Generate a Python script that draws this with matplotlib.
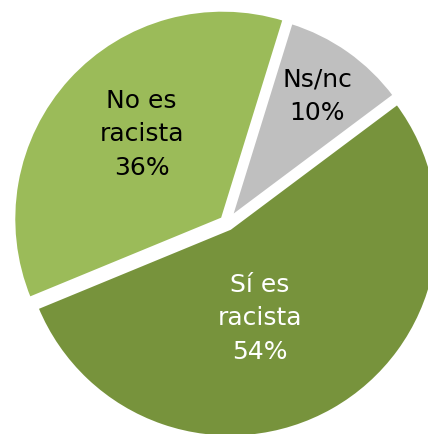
import matplotlib.pyplot as plt
import numpy as np

labels = ['Ns/nc', 'Sí es\nracista', 'No es\nracista']
values = [10, 54, 36]
colors = ['#BFBFBF', '#77933C', '#9BBB59']
text_colors = ['black', 'white', 'black']

fig = plt.figure(figsize=(4.28, 4.35), dpi=100)
ax = fig.add_axes([0, 0, 1, 1])

radius = 209
# explode is in data units here (axes are in pixels)
wedges, _ = ax.pie(values, colors=colors, startangle=72.8, counterclock=False,
                   radius=radius, center=(227, 211), explode=[6, 6, 6],
                   wedgeprops=dict(edgecolor='white', linewidth=2.5))
wedges[0].set_radius(205)  # the grey slice is a bit smaller in the original

# label placement: distance as fraction of radius, small angle tweak
label_dist = [0.72, 0.45, 0.565]
angle_tweak = [-0.1, -11.0, -4.3]
for w, lab, v, c, d, t in zip(wedges, labels, values, text_colors, label_dist, angle_tweak):
    ang = np.deg2rad((w.theta1 + w.theta2) / 2 + t)
    x = w.center[0] + radius * d * np.cos(ang)
    y = w.center[1] + radius * d * np.sin(ang)
    ax.text(x, y, f'{lab}\n{v}%', ha='center', va='center', color=c,
            fontsize=18, linespacing=1.5, family='DejaVu Sans')

ax.set_xlim(0, 428)
ax.set_ylim(0, 435)
ax.set_aspect('equal')
ax.axis('off')

fig.savefig('out.png', dpi=100)
